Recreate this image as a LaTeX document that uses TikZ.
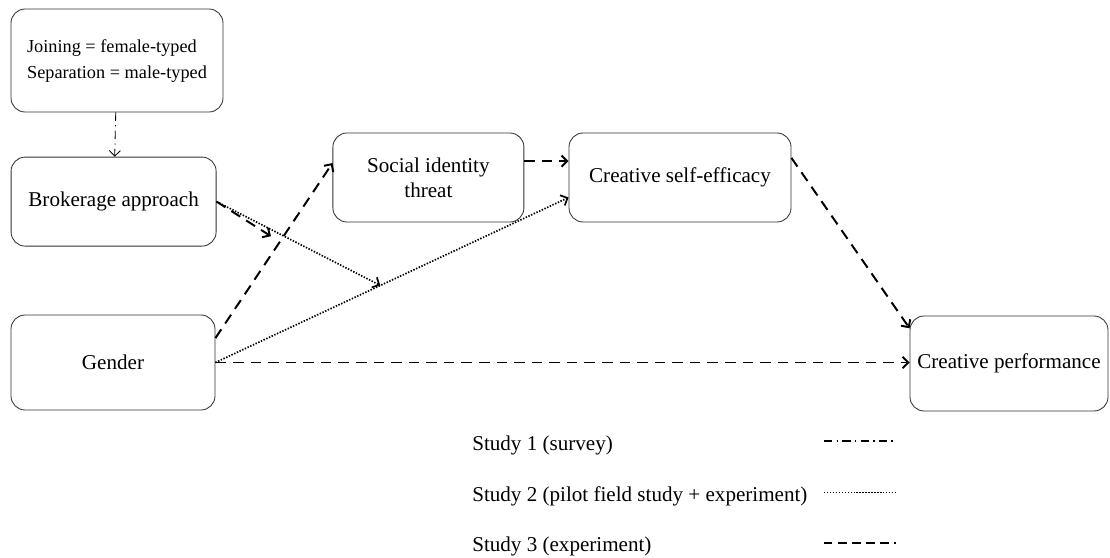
\documentclass[tikz,border=0pt]{standalone}
\usepackage{fontspec}
\setmainfont{Liberation Serif}
\usepackage{tikz}
\usetikzlibrary{arrows.meta,positioning,calc}

\begin{document}
\fontsize{15}{18}\selectfont
\begin{tikzpicture}[
  >={Straight Barb[length=4pt,width=8pt]},
  box/.style={draw=black!80, line width=0.6pt, rounded corners=10pt, align=center, inner sep=0pt},
  study1/.style={line width=0.8pt, dash pattern=on 6pt off 3pt on 1pt off 3pt},
  study2/.style={line width=1.2pt, dash pattern=on 1pt off 1.1pt},
  study3/.style={line width=1.4pt, dash pattern=on 7.5pt off 5pt}
]
\useasboundingbox (0,0) rectangle (27.75,-13.95);

% 变量
\node[box, minimum width=5.3cm, minimum height=2.575cm] (rule) at (2.925,-1.5125)
  {\begin{tabular}{@{}l@{}}\fontsize{13}{18}\selectfont Joining = female-typed\\
   \fontsize{13}{18}\selectfont Separation = male-typed\end{tabular}};
\node[box, minimum width=5.125cm, minimum height=2.225cm] (broker) at (2.84,-5.04) {Brokerage approach};
\node[box, minimum width=5.1cm, minimum height=2.375cm] (gender) at (2.825,-9.0625) {Gender};
\node[box, minimum width=4.775cm, minimum height=2.225cm] (sit) at (10.71,-4.4375) {Social identity\\threat};
\node[box, minimum width=5.55cm, minimum height=2.225cm] (cse) at (17.0,-4.4375) {Creative self-efficacy};
\node[box, minimum width=4.95cm, minimum height=2.375cm] (perf) at (25.225,-9.0875) {Creative performance};

% 路径
\draw[study1,->,line width=0.6pt] (rule) -- (broker);
\draw[study3,->] ([yshift=0.61cm]gender.east) -- coordinate[pos=0.55] (mod3) ([yshift=0.36cm]sit.west);
\draw[study2,->] (gender.east) -- coordinate[pos=0.467] (mod2) ([yshift=-0.5cm]cse.west);
\draw[study3,->] (gender.east) -- (gender.east -| perf.west);
\draw[study3,->] ([yshift=0.41cm]sit.east) -- ([yshift=0.41cm]sit.east -| cse.west);
\draw[study3,->] ([yshift=0.49cm]cse.east) -- ([yshift=0.88cm]perf.west);

% 调节
\draw[study3,->] (broker.east) -- ($(broker.east)!0.86!(mod3)$);
\draw[study2,->] (broker.east) -- (mod2);

% 图例
\node[anchor=west, inner sep=0pt] (leg1) at (11.8,-11.125) {Study 1 (survey)};
\node[anchor=west, inner sep=0pt] (leg2) at (11.8,-12.4) {Study 2 (pilot field study + experiment)};
\node[anchor=west, inner sep=0pt] (leg3) at (11.8,-13.65) {Study 3 (experiment)};
\coordinate (key1) at (20.6,-11.02);
\coordinate (key2) at (20.6,-12.32);
\coordinate (key3) at (20.6,-13.57);
\draw[study1, line width=1pt] (key1) -- ++(1.8,0);
\draw[study2, line width=0.9pt] (key2) -- ++(1.8,0);
\draw[study3, line width=1pt, dash pattern=on 6pt off 4pt] (key3) -- ++(1.8,0);
\end{tikzpicture}
\end{document}
